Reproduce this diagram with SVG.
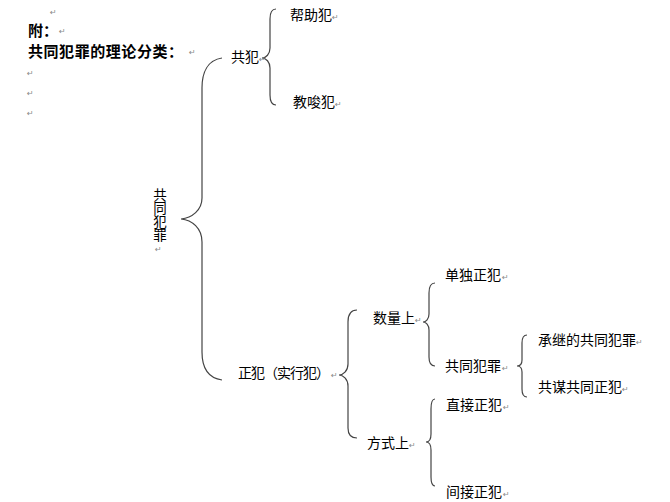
<svg xmlns="http://www.w3.org/2000/svg" width="670" height="502" viewBox="0 0 670 502">
<style>
.t{font-family:"Noto Sans CJK SC","Liberation Sans",sans-serif;font-size:14px;fill:#000}
.b{font-family:"Noto Sans CJK SC","Liberation Sans",sans-serif;font-size:15px;font-weight:bold;fill:#000}
.r{font-family:"DejaVu Sans",sans-serif;font-size:8px;fill:#888}
.br{fill:none;stroke:#444;stroke-width:1.2}
.v{writing-mode:vertical-rl;text-orientation:upright}
</style>
<rect width="670" height="502" fill="#fff"/>
<g id="header">
<text class="r" x="50" y="15">↵</text>
<text class="b" x="28" y="36">附：</text>
<text class="r" x="59" y="34">↵</text>
<text class="b" x="28" y="57" textLength="155">共同犯罪的理论分类：</text>
<text class="r" x="189" y="55">↵</text>
<text class="r" x="27" y="76">↵</text>
<text class="r" x="27" y="96">↵</text>
<text class="r" x="27" y="116">↵</text>
</g>
<g id="connectors">
<path class="br" d="M222,58 C208,60 202,72 202,88 L202,198 C202,210 192,218 181,219 C192,220 202,228 202,242 L202,352 C202,368 208,378 222,380"/>
<path class="br" d="M276,9 C272,9 270,13 270,19 L270,48 C270,54 266,58 262,58 C266,58 270,62 270,68 L270,95 C270,101 272,105 276,105"/>
<path class="br" d="M357,310 C351,310 348,314 348,322 L348,364 C348,371 343,375 339,375 C343,375 348,379 348,386 L348,428 C348,435 351,438 357,438"/>
<path class="br" d="M435,283 C431,283 429,287 429,293 L429,314 C429,319 426,322 423,322 C426,322 429,325 429,330 L429,357 C429,363 431,366 435,366"/>
<path class="br" d="M435,399 C432,399 431,403 431,409 L431,434 C431,439 429,442 426,442 C429,442 431,445 431,450 L431,477 C431,483 432,486 435,486"/>
<path class="br" d="M527,335 C524,335 522,338 522,343 L522,360 C522,364 520,366 517,366 C520,366 522,368 522,372 L522,389 C522,394 524,397 527,397"/>
</g>
<g id="root">
<text class="t v" x="160" y="188" style="font-size:13.5px">共同犯罪</text>
<text class="r" x="155" y="252">↵</text>
</g>
<g id="n-gongfan">
<text class="t" x="231" y="62">共犯</text><text class="r" x="259" y="62">↵</text>
</g>
<g id="n-bangzhu">
<text class="t" x="290" y="20">帮助犯</text><text class="r" x="332" y="20">↵</text>
</g>
<g id="n-jiaosuo">
<text class="t" x="293" y="107">教唆犯</text><text class="r" x="335" y="107">↵</text>
</g>
<g id="n-zhengfan">
<text class="t" x="238" y="378" textLength="92">正犯（实行犯）</text><text class="r" x="331" y="378">↵</text>
</g>
<g id="n-shuliang">
<text class="t" x="373" y="323">数量上</text><text class="r" x="415" y="323">↵</text>
</g>
<g id="n-fangshi">
<text class="t" x="367" y="448">方式上</text><text class="r" x="409" y="448">↵</text>
</g>
<g id="n-dandu">
<text class="t" x="445" y="280">单独正犯</text><text class="r" x="502" y="280">↵</text>
</g>
<g id="n-gongtong">
<text class="t" x="445" y="371">共同犯罪</text><text class="r" x="502" y="371">↵</text>
</g>
<g id="n-chengji">
<text class="t" x="538" y="345">承继的共同犯罪</text><text class="r" x="636" y="345">↵</text>
</g>
<g id="n-gongmou">
<text class="t" x="538" y="392">共谋共同正犯</text><text class="r" x="622" y="392">↵</text>
</g>
<g id="n-zhijie">
<text class="t" x="446" y="410">直接正犯</text><text class="r" x="503" y="410">↵</text>
</g>
<g id="n-jianjie">
<text class="t" x="446" y="497">间接正犯</text><text class="r" x="503" y="497">↵</text>
</g>
</svg>
